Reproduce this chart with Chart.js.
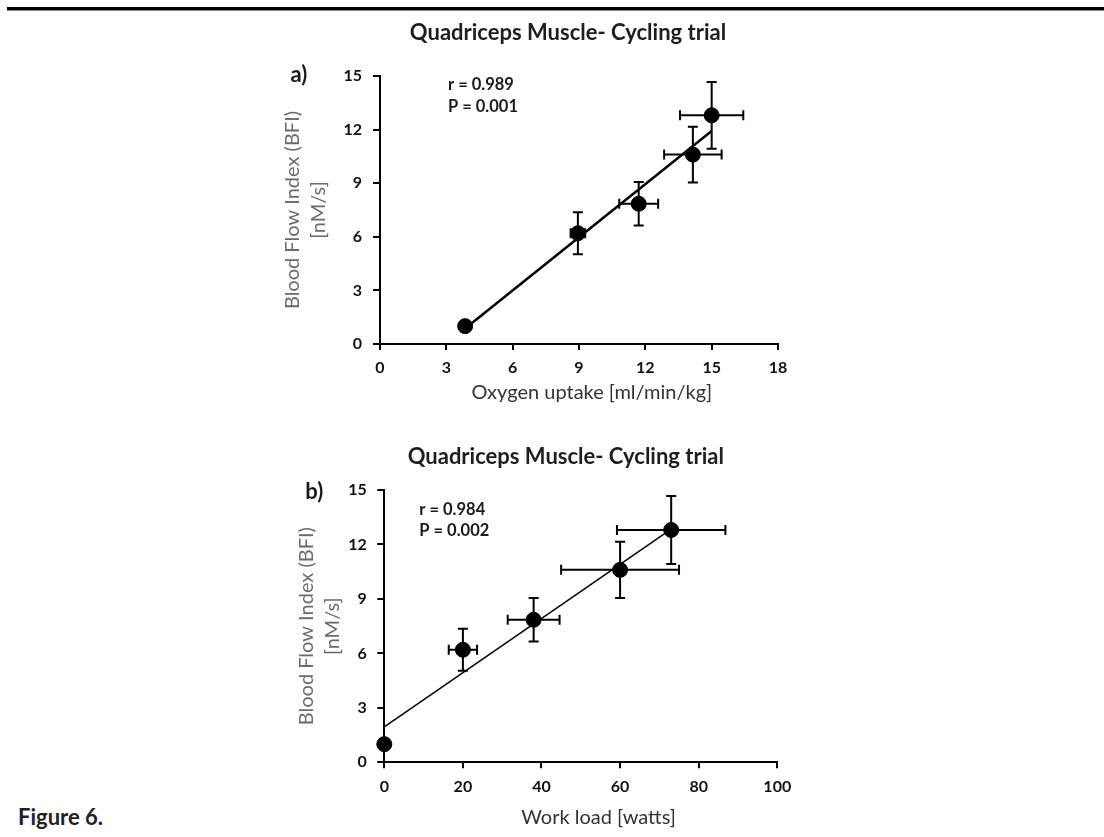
<!DOCTYPE html>
<html>
<head>
<meta charset="utf-8">
<script src="https://cdn.jsdelivr.net/npm/chart.js@4.4.0/dist/chart.umd.min.js"></script>
<style>
  body { margin: 0; background: #fff; width: 1104px; height: 837px; position: relative; overflow: hidden; }
  .rule { position: absolute; left: 7px; right: 0; top: 7px; height: 3px; background: #000; border-bottom: 1px solid #888; }
  .fig { position: absolute; left: 18px; top: 803px; font: bold 22px Lato, sans-serif; color: #222; }
  canvas { position: absolute; }
</style>
</head>
<body>
<div class="rule"></div>
<canvas id="chartA" width="520" height="420" style="left:280px;top:0px"></canvas>
<canvas id="chartB" width="520" height="397" style="left:280px;top:440px"></canvas>
<div class="fig">Figure 6.</div>
<script>
// ---- data ----
const titleText = 'Quadriceps Muscle- Cycling trial'
const yTitle = ['Blood Flow Index (BFI)', '[nM/s]']

// panel a) oxygen uptake
const oxygen = [3.85, 8.95, 11.7, 14.15, 15.0]
const oxygenErr = [0, 0.33, 0.88, 1.3, 1.43]
const bfiA = [1.0, 6.2, 7.85, 10.6, 12.8]
const bfiErrA = [0, 1.18, 1.22, 1.56, 1.87]
const fitAx = [3.85, 15.0]
const fitAy = [0.87, 11.92]
const statsA = ['r = 0.989', 'P = 0.001']

// panel b) work load
const workload = [0, 20, 38, 60, 73]
const workloadErr = [0, 3.6, 6.6, 15, 13.8]
const bfiB = [1.0, 6.2, 7.85, 10.6, 12.8]
const bfiErrB = [0, 1.15, 1.2, 1.55, 1.87]
const fitBx = [0, 73]
const fitBy = [1.95, 12.85]
const statsB = ['r = 0.984', 'P = 0.002']

const FONT = 'Lato, "Open Sans", sans-serif'

function toPoints(xs, ys) {
    return xs.map((x, i) => ({ x: x, y: ys[i] }))
}

// error bars drawn through the chart's own scales
function errorBars(xs, ys, xErr, yErr) {
    return {
        id: 'errorBars',
        beforeDatasetsDraw(chart) {
            const ctx = chart.ctx
            const sx = chart.scales.x
            const sy = chart.scales.y
            const cap = 5
            ctx.save()
            ctx.strokeStyle = '#000'
            ctx.lineWidth = 2
            xs.forEach((x, i) => {
                const px = sx.getPixelForValue(x)
                const py = sy.getPixelForValue(ys[i])
                if (yErr[i] > 0) {
                    const top = sy.getPixelForValue(ys[i] + yErr[i])
                    const bot = sy.getPixelForValue(ys[i] - yErr[i])
                    ctx.beginPath()
                    ctx.moveTo(px, top); ctx.lineTo(px, bot)
                    ctx.moveTo(px - cap, top); ctx.lineTo(px + cap, top)
                    ctx.moveTo(px - cap, bot); ctx.lineTo(px + cap, bot)
                    ctx.stroke()
                }
                if (xErr[i] > 0) {
                    const l = sx.getPixelForValue(x - xErr[i])
                    const r = sx.getPixelForValue(x + xErr[i])
                    ctx.beginPath()
                    ctx.moveTo(l, py); ctx.lineTo(r, py)
                    ctx.moveTo(l, py - cap); ctx.lineTo(l, py + cap)
                    ctx.moveTo(r, py - cap); ctx.lineTo(r, py + cap)
                    ctx.stroke()
                }
            })
            ctx.restore()
        }
    }
}

// heading, panel letter and r / P text, placed from the chart area
function panelText(o) {
    return {
        id: 'panelText',
        afterDraw(chart) {
            const ctx = chart.ctx
            const a = chart.chartArea
            ctx.save()
            ctx.fillStyle = '#1e1e1e'
            ctx.textBaseline = 'middle'
            ctx.textAlign = 'center'
            ctx.font = 'bold 22px ' + FONT
            ctx.fillText(titleText, a.left + o.titlePos[0], o.titlePos[1])
            ctx.fillStyle = '#1a1a1a'
            ctx.fillText(o.letter, a.left + o.letterPos[0], a.top + o.letterPos[1])
            ctx.font = 'bold 16.5px ' + FONT
            ctx.textAlign = 'left'
            o.stats.forEach((s, i) => {
                ctx.fillText(s, a.left + o.statsPos[0], a.top + o.statsPos[1] + i * o.statsPos[2])
            })
            ctx.restore()
        }
    }
}

function makeChart(id, o) {
    return new Chart(document.getElementById(id), {
        type: 'scatter',
        data: {
            datasets: [{
                type: 'line',
                data: toPoints(o.fitX, o.fitY),
                borderColor: '#000',
                borderWidth: o.fitWidth,
                pointRadius: 0,
                fill: false,
                clip: false
            }, {
                data: toPoints(o.xs, o.ys),
                backgroundColor: '#000',
                borderColor: '#000',
                pointRadius: 7.5,
                pointHoverRadius: 7.5,
                clip: false
            }]
        },
        options: {
            responsive: false,
            animation: false,
            events: [],
            layout: { padding: { left: 0, top: o.padTop, right: o.padRight, bottom: 0 } },
            plugins: {
                legend: { display: false },
                tooltip: { enabled: false },
                title: { display: false }
            },
            scales: {
                x: {
                    type: 'linear',
                    min: o.xMin, max: o.xMax,
                    afterFit: s => { s.height = o.xHeight },
                    ticks: { stepSize: o.xStep, color: '#111', padding: o.xTickPad,
                             font: { family: FONT, size: 16, weight: 'bold', lineHeight: 1.2 } },
                    grid: { drawOnChartArea: false, drawTicks: true, tickLength: 6, color: '#000', lineWidth: 2 },
                    border: { color: '#000', width: 2 },
                    title: { display: true, text: o.xTitle, color: '#333',
                             font: { family: FONT, size: 20, lineHeight: 1.2 },
                             padding: { top: 0, bottom: o.xTitlePad } }
                },
                y: {
                    type: 'linear',
                    min: 0, max: 15,
                    afterFit: s => { s.width = o.yWidth },
                    ticks: { stepSize: 3, color: '#111', padding: o.yTickPad,
                             font: { family: FONT, size: 16, weight: 'bold', lineHeight: 1.2 } },
                    grid: { drawOnChartArea: false, drawTicks: true, tickLength: 7, color: '#000', lineWidth: 2 },
                    border: { color: '#000', width: 2 },
                    title: { display: true, text: yTitle, color: '#6e6a66',
                             font: { family: FONT, size: 20, lineHeight: '26px' },
                             padding: { top: o.yTitlePad, bottom: 0 } }
                }
            }
        },
        plugins: [errorBars(o.xs, o.ys, o.xErr, o.yErr), panelText(o)]
    })
}

makeChart('chartA', {
    xs: oxygen, ys: bfiA, xErr: oxygenErr, yErr: bfiErrA,
    fitX: fitAx, fitY: fitAy, fitWidth: 2.5,
    xMin: 0, xMax: 18, xStep: 3, xTitle: '\u00a0\u00a0\u00a0\u00a0\u00a0Oxygen uptake [ml/min/kg]',
    padTop: 76, padRight: 22,
    xHeight: 76, xTickPad: 8.4, xTitlePad: 15,
    yWidth: 100, yTickPad: 11, yTitlePad: 0,
    titlePos: [188, 33], letter: 'a)', stats: statsA, letterPos: [-81, -1], statsPos: [68, 9, 22]
})

makeChart('chartB', {
    xs: workload, ys: bfiB, xErr: workloadErr, yErr: bfiErrB,
    fitX: fitBx, fitY: fitBy, fitWidth: 1.5,
    xMin: 0, xMax: 100, xStep: 20, xTitle: '\u00a0\u00a0\u00a0\u00a0\u00a0\u00a0\u00a0Work load [watts]',
    padTop: 50, padRight: 18.3,
    xHeight: 74.7, xTickPad: 8.8, xTitlePad: 7,
    yWidth: 104.3, yTickPad: 10.6, yTitlePad: 13.7,
    titlePos: [181.5, 16.7], letter: 'b)', stats: statsB, letterPos: [-70, 2], statsPos: [35, 20, 20.7]
})
</script>
</body>
</html>
